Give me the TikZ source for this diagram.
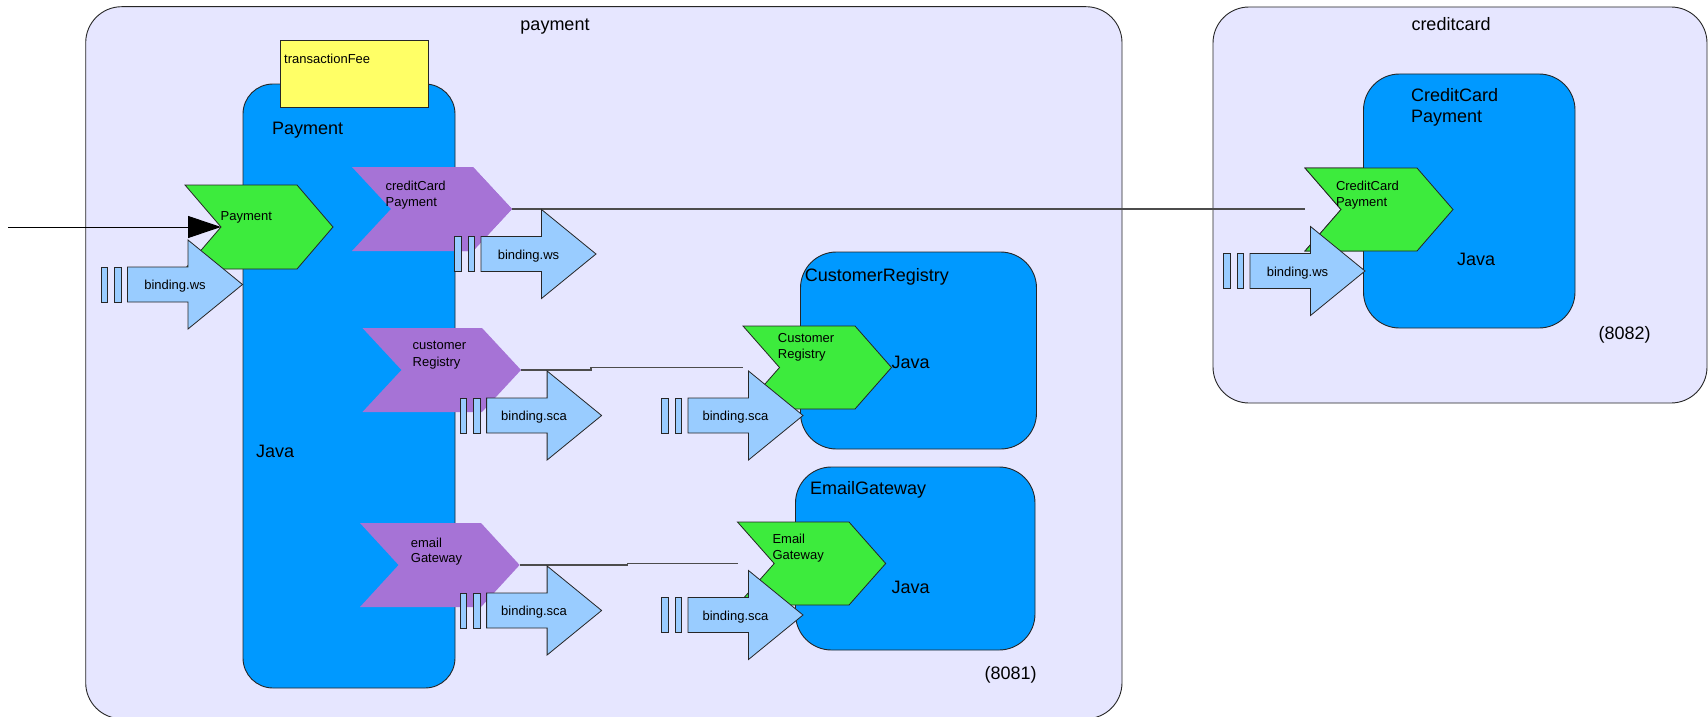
\documentclass[tikz,border=0pt]{standalone}
\usepackage{fontspec}
\setmainfont{Liberation Sans}
\usetikzlibrary{arrows.meta}

\definecolor{domainbg}{HTML}{E6E6FF}
\definecolor{compblue}{HTML}{0099FF}
\definecolor{propyellow}{HTML}{FFFF66}
\definecolor{svcgreen}{HTML}{3DEB3D}
\definecolor{refpurple}{RGB}{166,115,214}
\definecolor{bindblue}{HTML}{99CCFF}

% chevron: name, x, y (top left), width, height, point depth, fill style
\newcommand{\chevron}[7]{%
  \node[boxframe, minimum width=#4pt, minimum height=#5pt] (#1) at (#2,#3) {};
  \path[#7] (#1.north west) -- ([xshift=-#6pt]#1.north east) -- (#1.east)
    -- ([xshift=-#6pt]#1.south east) -- (#1.south west)
    -- ([xshift=#6pt]#1.west) -- cycle;
}

% binding arrow with its two bars: name, body left x, centre y, label
\newcommand{\bindingarrow}[4]{%
  \draw[bindstyle] ({#2-26.5},{#3-17.5}) rectangle ({#2-20},{#3+17.5});
  \draw[bindstyle] ({#2-13},{#3-17.5}) rectangle ({#2-6.5},{#3+17.5});
  \draw[bindstyle] (#2,{#3-17.5}) -- ({#2+60.5},{#3-17.5}) -- ({#2+60.5},{#3-44.5})
    -- ({#2+115},#3) -- ({#2+60.5},{#3+44.5}) -- ({#2+60.5},{#3+17.5})
    -- (#2,{#3+17.5}) -- cycle;
  \node[smalltext, anchor=base] (#1) at ({#2+47.5},{#3+5}) {#4};
}

\begin{document}
\begin{tikzpicture}[x=1pt, y=-1pt,
  lineout/.style={draw=black!85, line width=0.9pt},
  boxframe/.style={inner sep=0pt, outer sep=0pt, anchor=north west},
  compositebox/.style={boxframe, lineout, fill=domainbg, rounded corners=36pt},
  compbox/.style={boxframe, lineout, fill=compblue, rounded corners=#1},
  compbox/.default=36pt,
  svcshape/.style={fill=svcgreen, draw=black!85, line width=0.8pt},
  refshape/.style={fill=refpurple},
  bindstyle/.style={fill=bindblue, draw=black!85, line width=0.8pt},
  smalltext/.style={font=\fontsize{13}{15}\selectfont, inner sep=0pt, anchor=base west},
  bigtext/.style={font=\fontsize{18}{21}\selectfont, inner sep=0pt, anchor=base west},
  wire/.style={draw=black!70, line width=1.1pt}
]
\useasboundingbox[fill=white] (0,0) rectangle (1708,717);

% composites
\node[compositebox, minimum width=1036.3pt, minimum height=712pt] (paymentDomain) at (85.7,6.7) {};
\node[bigtext, anchor=base] (paymentTitle) at (555,30.5) {payment};
\node[compositebox, minimum width=494pt, minimum height=396pt] (creditDomain) at (1213,7) {};
\node[bigtext, anchor=base] (creditTitle) at (1451,31) {creditcard};

% wire between the two composites
\chevron{ccSvc}{1305}{168}{148}{83}{36}{svcshape}
\chevron{ccRef}{352}{167}{160}{84}{39}{refshape}
\coordinate (ccEnd) at (ccRef.east -| ccSvc.west);
\draw[wire] (ccRef.east) -- (ccEnd);

% components
\node[compbox=30pt, minimum width=212pt, minimum height=604pt] (paymentComp) at (243,84) {};
\node[bigtext] (paymentName) at (272,134.6) {Payment};
\node[bigtext] (paymentJava) at (256,457) {Java};

\node[compbox, minimum width=236pt, minimum height=197pt] (registryComp) at (800.5,252) {};
\node[bigtext] (registryName) at (804.6,281) {CustomerRegistry};
\node[bigtext] (registryJava) at (891.5,368.5) {Java};

\node[compbox, minimum width=239.5pt, minimum height=183pt] (gatewayComp) at (795.5,467) {};
\node[bigtext] (gatewayName) at (809.8,494.6) {EmailGateway};
\node[bigtext] (gatewayJava) at (891.5,593) {Java};

\node[compbox, minimum width=211.5pt, minimum height=254pt] (creditComp) at (1363.5,74) {};
\node[bigtext] (creditName1) at (1410.9,101.2) {CreditCard};
\node[bigtext] (creditName2) at (1410.9,122.9) {Payment};
\node[bigtext] (creditJava) at (1456.8,265.2) {Java};

\node[bigtext] (port8081) at (984.3,679) {(8081)};
\node[bigtext] (port8082) at (1598.4,339.5) {(8082)};

% property
\node[boxframe, lineout, fill=propyellow, minimum width=148pt, minimum height=67pt] (feeBox) at (280,40) {};
\node[smalltext] (feeName) at (284,63.3) {transactionFee};

% services and references
\chevron{paySvc}{185}{185}{148}{84}{36}{svcshape}
\node[smalltext] (paySvcName) at (220.4,220.3) {Payment};

\path[refshape] (ccRef.north west) -- ([xshift=-39pt]ccRef.north east) -- (ccRef.east)
  -- ([xshift=-39pt]ccRef.south east) -- (ccRef.south west)
  -- ([xshift=39pt]ccRef.west) -- cycle;
\node[smalltext] (ccRefName1) at (385.4,190.3) {creditCard};
\node[smalltext] (ccRefName2) at (385.4,206.6) {Payment};

\chevron{crRef}{362.5}{328}{158.5}{84}{39}{refshape}
\node[smalltext] (crRefName1) at (412.5,349.4) {customer};
\node[smalltext] (crRefName2) at (412.5,366) {Registry};

\chevron{egRef}{360}{523}{159.6}{84}{38.6}{refshape}
\node[smalltext] (egRefName1) at (410.7,547) {email};
\node[smalltext] (egRefName2) at (410.7,562.6) {Gateway};

\chevron{crSvc}{743}{326}{148.5}{83}{36.5}{svcshape}
\node[smalltext] (crSvcName1) at (777.7,342.6) {Customer};
\node[smalltext] (crSvcName2) at (777.7,358.6) {Registry};

\chevron{egSvc}{737.5}{522}{148.2}{83}{36.7}{svcshape}
\node[smalltext] (egSvcName1) at (772.3,543.6) {Email};
\node[smalltext] (egSvcName2) at (772.3,559.3) {Gateway};

\path[svcshape] (ccSvc.north west) -- ([xshift=-36pt]ccSvc.north east) -- (ccSvc.east)
  -- ([xshift=-36pt]ccSvc.south east) -- (ccSvc.south west)
  -- ([xshift=36pt]ccSvc.west) -- cycle;
\node[smalltext] (ccSvcName1) at (1335.8,190.3) {CreditCard};
\node[smalltext] (ccSvcName2) at (1335.8,206.6) {Payment};

% wires inside the payment composite
\draw[wire] (crRef.east) -- ++(70,0) |- (crSvc.west);
\draw[wire] (egRef.east) -- ++(108,0) |- (egSvc.west);

% bindings
\bindingarrow{payBinding}{127.5}{284.5}{binding.ws}
\bindingarrow{ccRefBinding}{481}{254}{binding.ws}
\bindingarrow{crRefBinding}{486.6}{415.5}{binding.sca}
\bindingarrow{crSvcBinding}{688}{415.5}{binding.sca}
\bindingarrow{egRefBinding}{486.6}{610.5}{binding.sca}
\bindingarrow{egSvcBinding}{688}{615}{binding.sca}
\bindingarrow{ccSvcBinding}{1250}{271}{binding.ws}

% incoming call
\coordinate (payNotch) at ([xshift=36pt]paySvc.west);
\coordinate (caller) at (8,0 |- payNotch);
\draw[line width=1pt, -{Triangle[length=33pt,width=22pt]}] (caller) -- (payNotch);
\end{tikzpicture}
\end{document}
